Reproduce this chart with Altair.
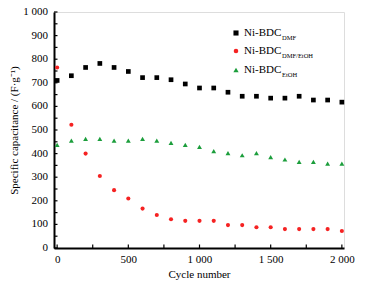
import altair as alt
import pandas as pd

cycles = [0, 100, 200, 300, 400, 500, 600, 700, 800, 900, 1000,
          1100, 1200, 1300, 1400, 1500, 1600, 1700, 1800, 1900, 2000]
dmf = [710, 730, 765, 782, 765, 748, 722, 722, 713, 695, 678,
       678, 660, 643, 643, 635, 635, 643, 627, 627, 618]
dmf_etoh = [765, 522, 400, 305, 245, 210, 167, 140, 122, 115, 115,
            115, 97, 97, 88, 88, 80, 80, 80, 80, 72]
etoh = [437, 455, 462, 462, 455, 455, 462, 455, 445, 437, 428,
        410, 402, 393, 402, 385, 375, 365, 365, 358, 358]

series_main = "Ni-BDC"
series_subs = ["DMF", "DMF/EtOH", "EtOH"]
colors = ["#000000", "#f52222", "#1c9e3c"]
shapes = ["square", "circle", "triangle-up"]
sizes = [22, 17, 24]

y_labels = list(range(0, 1001, 100))
x_labels = list(range(0, 2001, 500))
y_ticks = list(range(0, 1001, 50))
x_ticks = list(range(0, 2001, 250))

W, H = 290, 236
FONT = "Liberation Serif"

xscale = alt.Scale(domain=[-22, 2015], nice=False, zero=False)
yscale = alt.Scale(domain=[0, 1000], nice=False)

fmt = "replace(format(datum.value, ',d'), ',', ' ')"

common = dict(ticks=False, labelOverlap=False, labelPadding=5,
              domainWidth=2, domainColor="black",
              labelFontSize=11, titleFontSize=11,
              labelColor="black", titleColor="black",
              labelFont=FONT, titleFont=FONT,
              titleFontWeight="normal", grid=False, labelExpr=fmt)
xaxis = alt.Axis(title="Cycle number", values=x_labels, titlePadding=4, **common)
yaxis = alt.Axis(title="Specific capacitance / (F·g⁻¹)", values=y_labels,
                 labels=False, titlePadding=35,
                 **{k: v for k, v in common.items() if k != "labelExpr"})

values_list = [dmf, dmf_etoh, etoh]
layers = []
for i, vals in enumerate(values_list):
    df = pd.DataFrame({"cycle": cycles, "cap": vals})
    layer = alt.Chart(df).mark_point(
        shape=shapes[i], filled=True, color=colors[i], size=sizes[i], opacity=1
    ).encode(
        x=alt.X("cycle:Q", scale=xscale, axis=xaxis),
        y=alt.Y("cap:Q", scale=yscale, axis=yaxis),
    )
    layers.append(layer)

# inward ticks
ytick_df = pd.DataFrame({"cap": y_ticks})
xtick_df = pd.DataFrame({"cycle": x_ticks})
ytick_layer = alt.Chart(ytick_df).mark_rule(color="black", strokeWidth=1.2).encode(
    y=alt.Y("cap:Q", scale=yscale, axis=yaxis), x=alt.value(0), x2=alt.value(3.5))
xtick_layer = alt.Chart(xtick_df).mark_rule(color="black", strokeWidth=1.2).encode(
    x=alt.X("cycle:Q", scale=xscale, axis=xaxis), y=alt.value(H), y2=alt.value(H - 3.5))

# y tick labels (space as thousands separator)
ylab_df = pd.DataFrame({"cap": y_labels})
ylab_layer = alt.Chart(ylab_df).transform_calculate(
    lab="replace(format(datum.cap, ',d'), ',', ' ')"
).mark_text(align="right", baseline="middle", fontSize=11, font=FONT, color="black").encode(
    y=alt.Y("cap:Q", scale=yscale, axis=yaxis), x=alt.value(-6), text="lab:N")

# manual legend with subscripts
leg_y = [21, 39, 58]
legend_layers = []
for i in range(3):
    d = alt.Data(values=[{"m": series_main, "s": series_subs[i]}])
    legend_layers.append(alt.Chart(d).mark_point(
        shape=shapes[i], filled=True, color=colors[i], size=sizes[i] + 4, opacity=1
    ).encode(x=alt.value(182), y=alt.value(leg_y[i])))
    legend_layers.append(alt.Chart(d).mark_text(
        align="left", baseline="middle", fontSize=11, font=FONT, color="black"
    ).encode(x=alt.value(190), y=alt.value(leg_y[i]), text="m:N"))
    legend_layers.append(alt.Chart(d).mark_text(
        align="left", baseline="middle", fontSize=6.5, font=FONT, color="black"
    ).encode(x=alt.value(228), y=alt.value(leg_y[i] + 5), text="s:N"))

chart = alt.layer(*layers, ytick_layer, xtick_layer, ylab_layer, *legend_layers).properties(
    width=W, height=H,
    autosize=alt.AutoSizeParams(type="none"),
    padding={"left": 54, "top": 12, "right": 23, "bottom": 39},
).configure_view(stroke="black", strokeWidth=1.5).configure(background="white")

chart.save("out.html", embed_options={"renderer": "svg", "actions": False})
